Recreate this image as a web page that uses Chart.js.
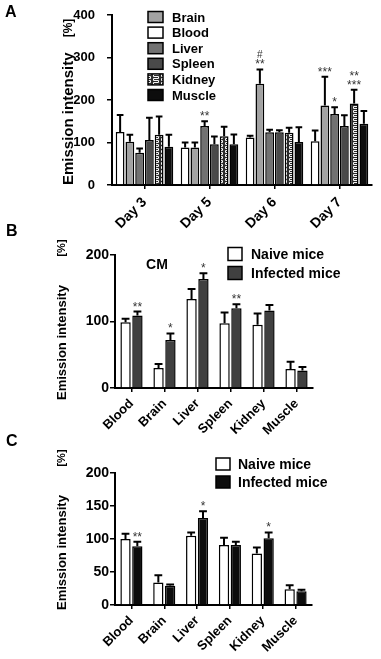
<!DOCTYPE html>
<html><head><meta charset="utf-8">
<script src="https://cdn.jsdelivr.net/npm/chart.js@4/dist/chart.umd.min.js"></script>
<style>
html,body{margin:0;padding:0;background:#fff;width:381px;height:659px;overflow:hidden;}
canvas{position:absolute;left:0;}
</style></head><body>
<canvas id="cA" width="381" height="240" style="top:0px"></canvas>
<canvas id="cB" width="381" height="220" style="top:220px"></canvas>
<canvas id="cC" width="381" height="229" style="top:430px"></canvas>
<script>
// ---------- Panel A data ----------
const daysA = ['Day 3', 'Day 5', 'Day 6', 'Day 7'];
const tissuesA = ['Blood', 'Brain', 'Liver', 'Spleen', 'Kidney', 'Muscle'];
const legendOrderA = ['Brain', 'Blood', 'Liver', 'Spleen', 'Kidney', 'Muscle'];
const bloodA = [125, 88, 112, 103];
const bloodErrA = [40, 12, 4, 25];
const bloodSigA = ['', '', '', ''];
const brainA = [102, 88, 238, 187];
const brainErrA = [16, 12, 34, 68];
const brainSigA = ['', '', '#\n**', '***'];
const liverA = [76, 139, 124, 167];
const liverErrA = [10, 11, 6, 16];
const liverSigA = ['', '**', '', '*'];
const spleenA = [106, 96, 124, 139];
const spleenErrA = [52, 18, 5, 25];
const spleenSigA = ['', '', '', ''];
const kidneyA = [118, 115, 123, 192];
const kidneyErrA = [43, 22, 12, 32];
const kidneySigA = ['', '', '', '**\n***'];
const muscleA = [90, 96, 101, 144];
const muscleErrA = [28, 23, 35, 30];
const muscleSigA = ['', '', '', ''];
const yTicksA = [0, 100, 200, 300, 400];

// ---------- Panel B data ----------
const organsB = ['Blood', 'Brain', 'Liver', 'Spleen', 'Kidney', 'Muscle'];
const naiveB = [99, 30, 134, 97.5, 95, 28.5];
const naiveErrB = [5, 6, 15, 16, 17, 11];
const infectedB = [109, 72, 164, 120, 116.5, 26.5];
const infectedErrB = [6, 10, 8.5, 6, 8.5, 5];
const infectedSigB = ['**', '*', '*', '**', '', ''];
const yTicksB = [0, 100, 200];

// ---------- Panel C data ----------
const organsC = ['Blood', 'Brain', 'Liver', 'Spleen', 'Kidney', 'Muscle'];
const naiveC = [100, 34, 105, 91, 78, 24];
const naiveErrC = [8, 11, 5, 11, 9, 6];
const infectedC = [89, 29, 132, 91, 101, 21];
const infectedErrC = [7, 2, 10, 5, 9, 2];
const infectedSigC = ['**', '', '*', '', '*', ''];
const yTicksC = [0, 50, 100, 150, 200];

const FONT = "'Liberation Sans', Arial, sans-serif";
Chart.defaults.font.family = FONT;
Chart.defaults.color = '#000';

function kidneyPattern() {
  const c = document.createElement('canvas');
  c.width = 8; c.height = 4;
  const g = c.getContext('2d');
  g.fillStyle = '#2a2a2a';
  g.fillRect(0, 0, 8, 4);
  g.strokeStyle = '#f4f4f4';
  g.lineWidth = 1;
  g.beginPath();
  g.moveTo(1.5, 0.5); g.lineTo(6.5, 0.5); g.lineTo(6.5, 2.5); g.lineTo(1.5, 2.5); g.lineTo(1.5, 4.5);
  g.moveTo(1.5, -1.5); g.lineTo(1.5, 0.5);
  g.stroke();
  return g.createPattern(c, 'repeat');
}

function extras(opt) {
  return {
    id: 'extras',
    afterDatasetsDraw(chart) {
      const ctx = chart.ctx;
      const ys = chart.scales.y;
      chart.data.datasets.forEach((ds, i) => {
        const meta = chart.getDatasetMeta(i);
        meta.data.forEach((el, j) => {
          const top = ys.getPixelForValue(ds.data[j] + ds.errors[j]);
          const half = el.width * 0.38;
          ctx.save();
          ctx.strokeStyle = '#000';
          ctx.lineWidth = 2;
          ctx.beginPath();
          ctx.moveTo(el.x, el.y); ctx.lineTo(el.x, top);
          ctx.moveTo(el.x - half, top); ctx.lineTo(el.x + half, top);
          ctx.stroke();
          const s = ds.sig ? ds.sig[j] : '';
          if (s) {
            const lines = s.split('\n');
            ctx.fillStyle = '#333';
            ctx.textAlign = 'center';
            ctx.textBaseline = 'alphabetic';
            for (let k = lines.length - 1, n = 0; k >= 0; k--, n++) {
              const isHash = lines[k] === '#';
              ctx.font = (isHash ? '10px ' : '12px ') + FONT;
              ctx.fillText(lines[k], el.x, top - 1 - n * 9 + (isHash ? -1 : 0));
            }
          }
          ctx.restore();
        });
      });
    },
    afterDraw(chart) {
      const ctx = chart.ctx;
      ctx.save();
      // panel letter
      ctx.fillStyle = '#000';
      ctx.font = 'bold 16px ' + FONT;
      ctx.textAlign = 'left';
      ctx.textBaseline = 'middle';
      ctx.fillText(opt.letter, opt.letterX, opt.letterY);
      // y title
      ctx.save();
      ctx.translate(opt.titleX, opt.titleY);
      ctx.rotate(-Math.PI / 2);
      ctx.font = 'bold ' + opt.titleSize + 'px ' + FONT;
      ctx.textAlign = 'left';
      ctx.textBaseline = 'middle';
      ctx.fillText('Emission intensity', 0, 0);
      ctx.font = 'bold ' + opt.pctSize + 'px ' + FONT;
      ctx.textAlign = 'center';
      ctx.fillText('[%]', opt.pctY, 0);
      ctx.restore();
      // legend
      ctx.font = 'bold ' + opt.legSize + 'px ' + FONT;
      ctx.textAlign = 'left';
      ctx.textBaseline = 'middle';
      opt.legendOrder.forEach((name, k) => {
        const ds = chart.data.datasets.find(d => d.label === name);
        const cy = opt.legY + k * opt.legStep;
        ctx.fillStyle = ds.backgroundColor;
        ctx.fillRect(opt.legX, cy - opt.boxH / 2, opt.boxW, opt.boxH);
        ctx.strokeStyle = '#000';
        ctx.lineWidth = 1.5;
        ctx.strokeRect(opt.legX, cy - opt.boxH / 2, opt.boxW, opt.boxH);
        ctx.fillStyle = '#000';
        ctx.fillText(name, opt.legX + opt.boxW + opt.legGap, cy + 1);
      });
      if (opt.note) {
        ctx.font = 'bold 14px ' + FONT;
        ctx.textAlign = 'center';
        ctx.fillText(opt.note, opt.noteX, opt.noteY);
      }
      ctx.restore();
    }
  };
}

function makeChart(id, labels, datasets, o) {
  return new Chart(document.getElementById(id), {
    type: 'bar',
    data: { labels, datasets },
    options: {
      responsive: false,
      animation: false,
      devicePixelRatio: 1,
      events: [],
      layout: { padding: { top: o.padTop, right: o.padRight, left: 0, bottom: 0 } },
      plugins: { legend: { display: false }, tooltip: { enabled: false } },
      datasets: { bar: { categoryPercentage: o.catPct, barPercentage: o.barPct, borderWidth: 1.5, borderColor: '#000', borderSkipped: 'bottom' } },
      scales: {
        x: {
          grid: { display: true, drawOnChartArea: false, drawTicks: true, tickLength: 4, color: '#000', lineWidth: 1.5, offset: false },
          border: { display: true, color: '#000', width: 2 },
          ticks: { autoSkip: false, minRotation: 45, maxRotation: 45, padding: o.xPad, color: '#000', font: { size: o.xSize, weight: 'bold' } },
          afterFit(s) { s.height = o.xH; s.paddingLeft = 0; s.paddingRight = 0; s.paddingTop = 0; s.paddingBottom = 0; }
        },
        y: {
          min: 0, max: o.max,
          afterBuildTicks(s) { s.ticks = o.ticks.map(v => ({ value: v })); },
          grid: { display: true, drawOnChartArea: false, drawTicks: true, tickLength: 5, color: '#000', lineWidth: 1.5 },
          border: { display: true, color: '#000', width: 2 },
          ticks: { padding: o.yPad, color: '#000', font: { size: o.ySize, weight: 'bold' } },
          afterFit(s) { s.width = o.yW; s.paddingLeft = 0; s.paddingRight = 0; s.paddingTop = 0; s.paddingBottom = 0; }
        }
      }
    },
    plugins: [extras(o)]
  });
}

const pat = kidneyPattern();
const colorsA = { Blood: '#ffffff', Brain: '#a2a2a2', Liver: '#727272', Spleen: '#4a4a4a', Kidney: pat, Muscle: '#0d0d0d' };
const valsA = [bloodA, brainA, liverA, spleenA, kidneyA, muscleA];
const errsA = [bloodErrA, brainErrA, liverErrA, spleenErrA, kidneyErrA, muscleErrA];
const sigsA = [bloodSigA, brainSigA, liverSigA, spleenSigA, kidneySigA, muscleSigA];

makeChart('cA', daysA, tissuesA.map((t, i) => ({
  label: t, data: valsA[i], errors: errsA[i], sig: sigsA[i], backgroundColor: colorsA[t]
})), {
  padTop: 15, padRight: 9, xH: 55, yW: 112, max: 400, ticks: yTicksA,
  catPct: 0.9, barPct: 0.9, xPad: 5, xSize: 14, yPad: 12, ySize: 13,
  letter: 'A', letterX: 5, letterY: 13,
  titleX: 69, titleY: 185, titleSize: 15, pctSize: 12, pctY: 157,
  legendOrder: legendOrderA, legX: 148, legY: 17, legStep: 15.6, boxW: 15, boxH: 11, legGap: 9, legSize: 13
});

makeChart('cB', organsB, [
  { label: 'Naive mice', data: naiveB, errors: naiveErrB, sig: null, backgroundColor: '#ffffff' },
  { label: 'Infected mice', data: infectedB, errors: infectedErrB, sig: infectedSigB, backgroundColor: '#404040' }
], {
  padTop: 35, padRight: 68, xH: 52, yW: 115, max: 200, ticks: yTicksB,
  catPct: 0.72, barPct: 0.87, xPad: 4, xSize: 13, yPad: 1, ySize: 14,
  letter: 'B', letterX: 6, letterY: 12,
  titleX: 62, titleY: 180, titleSize: 13, pctSize: 11, pctY: 152,
  legendOrder: ['Naive mice', 'Infected mice'], legX: 228, legY: 34, legStep: 19, boxW: 14, boxH: 13, legGap: 9, legSize: 14,
  note: 'CM', noteX: 157, noteY: 45
});

makeChart('cC', organsC, [
  { label: 'Naive mice', data: naiveC, errors: naiveErrC, sig: null, backgroundColor: '#ffffff' },
  { label: 'Infected mice', data: infectedC, errors: infectedErrC, sig: infectedSigC, backgroundColor: '#0d0d0d' }
], {
  padTop: 43, padRight: 69, xH: 54, yW: 115, max: 200, ticks: yTicksC,
  catPct: 0.72, barPct: 0.87, xPad: 4, xSize: 13, yPad: 1, ySize: 14,
  letter: 'C', letterX: 6, letterY: 12,
  titleX: 62, titleY: 180, titleSize: 13, pctSize: 11, pctY: 152,
  legendOrder: ['Naive mice', 'Infected mice'], legX: 216, legY: 34, legStep: 18, boxW: 14, boxH: 12, legGap: 8, legSize: 14
});
</script>
</body></html>
